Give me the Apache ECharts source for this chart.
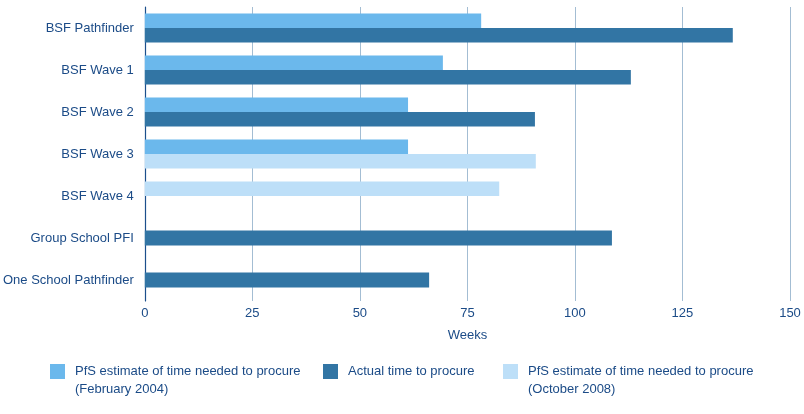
<!DOCTYPE html>
<html><head><meta charset="utf-8">
<script src="https://cdn.jsdelivr.net/npm/echarts@6/dist/echarts.min.js"></script>
<style>html,body{margin:0;padding:0;background:#fff}#chart{width:804px;height:414px}</style>
</head><body><div id="chart"></div>
<script>
const categories = ['BSF Pathfinder', 'BSF Wave 1', 'BSF Wave 2', 'BSF Wave 3', 'BSF Wave 4', 'Group School PFI', 'One School Pathfinder'];
const feb2004 = [78.2, 69.3, 61.2, 61.2, null, null, null];
const actual = [136.7, 113.0, 90.7, null, null, 108.6, 66.1];
const oct2008 = [null, null, null, 90.9, 82.4, null, null];
const xTicks = [0, 25, 50, 75, 100, 125, 150];
const seriesNames = [
  'PfS estimate of time needed to procure\n(February 2004)',
  'Actual time to procure',
  'PfS estimate of time needed to procure\n(October 2008)'
];
const axisTitle = 'Weeks';

const colors = ['#6bb8ec', '#3275a4', '#bddff8'];
const textColor = '#1b4b87';
const font = '"Liberation Sans", Arial, sans-serif';

// Layout rule derived from data: where a Feb-2004 estimate exists the bars are paired
const hasFeb = feb2004.map(v => v != null);
const octSlot1 = oct2008.map((v, i) => hasFeb[i] ? null : v);
const octSlot2 = oct2008.map((v, i) => hasFeb[i] ? v : null);
const actualPaired = actual.map((v, i) => hasFeb[i] ? v : null);
const actualSolo = actual.map((v, i) => hasFeb[i] ? null : v);

const chart = echarts.init(document.getElementById('chart'), null, {renderer: 'canvas'});
const legendBase = {
  orient: 'horizontal', padding: 0, itemWidth: 15, itemHeight: 15, icon: 'rect',
  selectedMode: false,
  textStyle: {color: textColor, fontSize: 13, lineHeight: 18, fontFamily: font, padding: [0, 0, 0, 5]}
};
const option = {
  animation: false,
  backgroundColor: '#ffffff',
  textStyle: {fontFamily: font},
  grid: {left: 144, right: 14, top: 7, bottom: 113, containLabel: false},
  legend: [
    Object.assign({}, legendBase, {data: [seriesNames[0]], left: 50, top: 344.5,
      formatter: n => '\n' + n}),
    Object.assign({}, legendBase, {data: [seriesNames[1]], left: 323, top: 362.5}),
    Object.assign({}, legendBase, {data: [seriesNames[2]], left: 503, top: 344.5,
      formatter: n => '\n' + n})
  ],
  xAxis: {
    type: 'value', min: xTicks[0], max: xTicks[xTicks.length - 1], interval: xTicks[1] - xTicks[0],
    axisLine: {show: false}, axisTick: {show: false},
    splitLine: {show: true, lineStyle: {color: '#a3bdd3', width: 1}},
    axisLabel: {color: textColor, fontSize: 13, margin: 6, fontFamily: font},
    name: axisTitle, nameLocation: 'middle', nameGap: 28,
    nameTextStyle: {color: textColor, fontSize: 13, fontFamily: font}
  },
  yAxis: [
    {
      type: 'category', data: categories, inverse: true,
      axisLine: {show: true, lineStyle: {color: '#1c4f8c', width: 1.2}},
      axisTick: {show: false},
      axisLabel: {color: textColor, fontSize: 13, margin: 11, fontFamily: font}
    },
    {type: 'category', data: categories, inverse: true, show: false}
  ],
  series: [
    {name: seriesNames[0], type: 'bar', stack: 's1', yAxisIndex: 0, data: feb2004,
      barWidth: 14.5, barGap: 0, itemStyle: {color: colors[0]}},
    {name: seriesNames[2], type: 'bar', stack: 's1', yAxisIndex: 0, data: octSlot1,
      barWidth: 14.5, barGap: 0, itemStyle: {color: colors[2]}},
    {name: seriesNames[1], type: 'bar', stack: 's2', yAxisIndex: 0, data: actualPaired,
      barWidth: 14.5, barGap: 0, itemStyle: {color: colors[1]}},
    {name: seriesNames[2], type: 'bar', stack: 's2', yAxisIndex: 0, data: octSlot2,
      barWidth: 14.5, barGap: 0, itemStyle: {color: colors[2]}},
    {name: seriesNames[1], type: 'bar', yAxisIndex: 1, data: actualSolo,
      barWidth: 15, itemStyle: {color: colors[1]}}
  ]
};
chart.setOption(option);
</script>
</body></html>
